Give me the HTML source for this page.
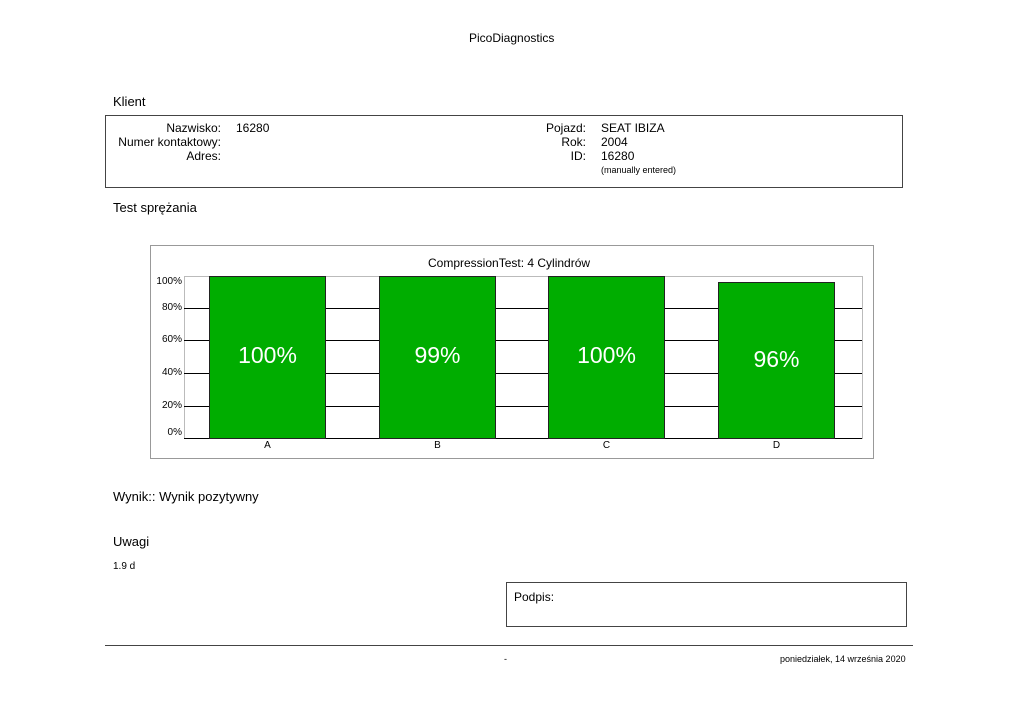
<!DOCTYPE html>
<html><head><meta charset="utf-8"><style>
body{margin:0;width:1024px;height:724px;background:#fff;position:relative;font-family:"Liberation Sans",sans-serif;color:#000;overflow:hidden}
.a{position:absolute;white-space:nowrap}
.f12{font-size:12px}.f13{font-size:13px}
.r{text-align:right}
.g{position:absolute;left:184px;width:678px;height:1px;background:#000}
.bar{position:absolute;width:117px;background:#00ad00;border:1px solid #222;box-sizing:border-box;color:#fff;font-size:23px;text-align:center}
.yl{position:absolute;left:150px;width:32px;text-align:right;font-size:10px}
.xl{position:absolute;top:440px;font-size:10px;width:117px;text-align:center}
</style></head><body>
<div class="a f12" style="left:469px;top:31px">PicoDiagnostics</div>
<div class="a f13" style="left:113px;top:94px">Klient</div>
<div class="a" style="left:105px;top:115px;width:796px;height:71px;border:1px solid #444"></div>
<div class="a f12 r" style="left:100px;top:121px;width:121px;line-height:14px">Nazwisko:<br>Numer kontaktowy:<br>Adres:</div>
<div class="a f12" style="left:236px;top:121px">16280</div>
<div class="a f12 r" style="left:500px;top:121px;width:86px;line-height:14px">Pojazd:<br>Rok:<br>ID:</div>
<div class="a f12" style="left:601px;top:121px;line-height:14px">SEAT IBIZA<br>2004<br>16280</div>
<div class="a" style="left:601px;top:165px;font-size:9px">(manually entered)</div>
<div class="a f13" style="left:113px;top:200px">Test sprężania</div>
<div class="a" style="left:150px;top:245px;width:722px;height:212px;border:1px solid #999"></div>
<div class="a f12" style="left:428px;top:256px">CompressionTest: 4 Cylindrów</div>
<div class="a" style="left:184px;top:276px;width:1px;height:163px;background:#bbb"></div>
<div class="a" style="left:862px;top:276px;width:1px;height:163px;background:#bbb"></div>
<div class="g" style="top:276px;background:#bbb"></div>
<div class="g" style="top:308px"></div>
<div class="g" style="top:340px"></div>
<div class="g" style="top:373px"></div>
<div class="g" style="top:406px"></div>
<div class="g" style="top:438px"></div>
<div class="yl" style="top:276px">100%</div>
<div class="yl" style="top:302px">80%</div>
<div class="yl" style="top:334px">60%</div>
<div class="yl" style="top:367px">40%</div>
<div class="yl" style="top:400px">20%</div>
<div class="yl" style="top:427px">0%</div>
<div class="bar" style="left:209px;top:276px;height:163px;padding-top:65px">100%</div>
<div class="bar" style="left:379px;top:276px;height:163px;padding-top:65px">99%</div>
<div class="bar" style="left:548px;top:276px;height:163px;padding-top:65px">100%</div>
<div class="bar" style="left:718px;top:282px;height:157px;padding-top:63px">96%</div>
<div class="xl" style="left:209px">A</div>
<div class="xl" style="left:379px">B</div>
<div class="xl" style="left:548px">C</div>
<div class="xl" style="left:718px">D</div>
<div class="a f13" style="left:113px;top:489px">Wynik:: Wynik pozytywny</div>
<div class="a f13" style="left:113px;top:534px">Uwagi</div>
<div class="a" style="left:113px;top:561px;font-size:10px">1.9 d</div>
<div class="a" style="left:506px;top:582px;width:399px;height:43px;border:1px solid #444"></div>
<div class="a f12" style="left:514px;top:590px">Podpis:</div>
<div class="a" style="left:105px;top:645px;width:808px;height:1px;background:#444"></div>
<div class="a" style="left:504px;top:654px;font-size:9px">-</div>
<div class="a" style="left:780px;top:654px;font-size:9px">poniedziałek, 14 września 2020</div>
</body></html>
